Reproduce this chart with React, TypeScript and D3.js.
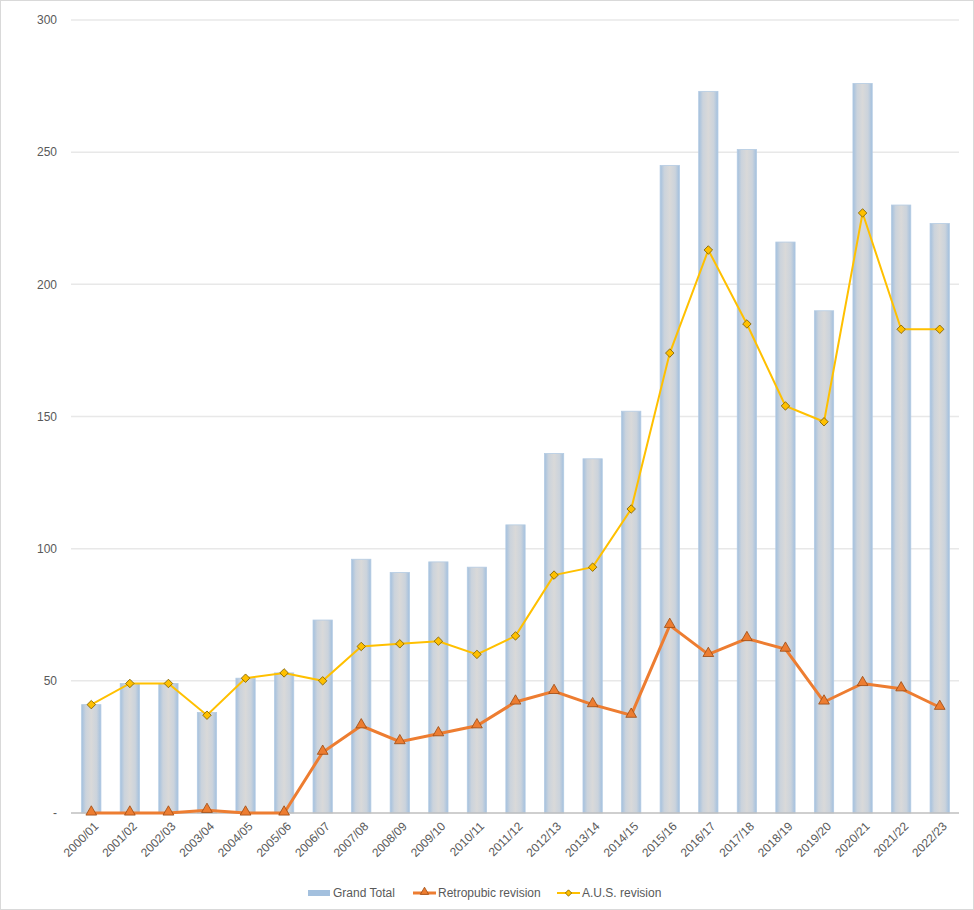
import React, { useRef, useEffect } from 'react';
import * as d3 from 'd3';

const years = [
  '2000/01', '2001/02', '2002/03', '2003/04', '2004/05', '2005/06', '2006/07', '2007/08',
  '2008/09', '2009/10', '2010/11', '2011/12', '2012/13', '2013/14', '2014/15', '2015/16',
  '2016/17', '2017/18', '2018/19', '2019/20', '2020/21', '2021/22', '2022/23'
];
const grandTotal = [41, 49, 49, 38, 51, 53, 73, 96, 91, 95, 93, 109, 136, 134, 152, 245, 273, 251, 216, 190, 276, 230, 223];
const retropubic = [0, 0, 0, 1, 0, 0, 23, 33, 27, 30, 33, 42, 46, 41, 37, 71, 60, 66, 62, 42, 49, 47, 40];
const ausRevision = [41, 49, 49, 37, 51, 53, 50, 63, 64, 65, 60, 67, 90, 93, 115, 174, 213, 185, 154, 148, 227, 183, 183];
const yTicks = [0, 50, 100, 150, 200, 250, 300];

const W = 974;
const H = 910;
const margin = { top: 20, right: 15, bottom: 97, left: 72 };
const font = 'Liberation Sans, Arial, sans-serif';

export default function App() {
  const svgRef = useRef<SVGSVGElement>(null);

  useEffect(() => {
    if (!svgRef.current) return;
    const svg = d3.select(svgRef.current);
    svg.selectAll('*').remove();

    const x = d3.scaleBand<string>()
      .domain(years)
      .range([margin.left, W - margin.right])
      .paddingInner(0.5)
      .paddingOuter(0.25);
    const y = d3.scaleLinear()
      .domain([0, 300])
      .range([H - margin.bottom, margin.top]);

    // outer border
    svg.append('rect')
      .attr('x', 0.5).attr('y', 0.5)
      .attr('width', W - 1).attr('height', H - 1)
      .attr('fill', '#fff')
      .attr('stroke', '#d9d9d9');

    // bar gradient
    const grad = svg.append('defs').append('linearGradient')
      .attr('id', 'barGrad')
      .attr('x1', '0%').attr('x2', '100%').attr('y1', '0%').attr('y2', '0%');
    [
      ['0%', '#a3c0de'],
      ['22%', '#cbd3dc'],
      ['50%', '#d9d9d9'],
      ['78%', '#cbd3dc'],
      ['100%', '#a3c0de']
    ].forEach(([o, c]) => grad.append('stop').attr('offset', o).attr('stop-color', c));

    // gridlines
    svg.append('g')
      .selectAll('line')
      .data(yTicks.filter(t => t > 0))
      .enter().append('line')
      .attr('x1', margin.left - 1)
      .attr('x2', W - margin.right)
      .attr('y1', d => y(d))
      .attr('y2', d => y(d))
      .attr('stroke', '#e8e8e8')
      .attr('stroke-width', 1.5);

    // y labels
    svg.append('g')
      .selectAll('text')
      .data(yTicks)
      .enter().append('text')
      .attr('x', 57)
      .attr('y', d => y(d))
      .attr('dy', '0.35em')
      .attr('text-anchor', 'end')
      .attr('font-family', font)
      .attr('font-size', 12)
      .attr('fill', '#595959')
      .text(d => (d === 0 ? '-' : String(d)));

    // bars
    svg.append('g')
      .selectAll('rect')
      .data(grandTotal)
      .enter().append('rect')
      .attr('x', (d, i) => x(years[i])!)
      .attr('y', d => y(d))
      .attr('width', x.bandwidth())
      .attr('height', d => y(0) - y(d))
      .attr('fill', 'url(#barGrad)')
      .attr('stroke', '#b4cbe3')
      .attr('stroke-width', 0.8);

    // x axis line
    svg.append('line')
      .attr('x1', margin.left - 1)
      .attr('x2', W - margin.right)
      .attr('y1', y(0))
      .attr('y2', y(0))
      .attr('stroke', '#bfbfbf')
      .attr('stroke-width', 1.5);

    // x labels
    svg.append('g')
      .selectAll('text')
      .data(years)
      .enter().append('text')
      .attr('transform', d => `translate(${x(d)! + x.bandwidth() / 2 + 5},${y(0) + 11}) rotate(-45)`)
      .attr('text-anchor', 'end')
      .attr('dy', '0.35em')
      .attr('font-family', font)
      .attr('font-size', 12)
      .attr('fill', '#595959')
      .text(d => d);

    const cx = (i: number) => x(years[i])! + x.bandwidth() / 2;
    const line = d3.line<number>().x((d, i) => cx(i)).y(d => y(d));

    // A.U.S. line
    svg.append('path')
      .datum(ausRevision)
      .attr('d', line)
      .attr('fill', 'none')
      .attr('stroke', '#ffc000')
      .attr('stroke-width', 2);

    // Retropubic line
    svg.append('path')
      .datum(retropubic)
      .attr('d', line)
      .attr('fill', 'none')
      .attr('stroke', '#ed7d31')
      .attr('stroke-width', 3);

    const tri = d3.symbol().type(d3.symbolTriangle).size(50);
    const dia = d3.symbol().type(d3.symbolSquare).size(36);

    svg.append('g')
      .selectAll('path')
      .data(retropubic)
      .enter().append('path')
      .attr('d', tri)
      .attr('transform', (d, i) => `translate(${cx(i)},${y(d) - 1})`)
      .attr('fill', '#ed7d31')
      .attr('stroke', '#9c4a12')
      .attr('stroke-width', 0.8);

    svg.append('g')
      .selectAll('path')
      .data(ausRevision)
      .enter().append('path')
      .attr('d', dia)
      .attr('transform', (d, i) => `translate(${cx(i)},${y(d)}) rotate(45)`)
      .attr('fill', '#ffc000')
      .attr('stroke', '#7f6000')
      .attr('stroke-width', 0.8);

    // legend
    const ly = 893;
    const lg = svg.append('g').attr('font-family', font).attr('font-size', 12).attr('fill', '#595959');
    lg.append('rect').attr('x', 308).attr('y', ly - 3).attr('width', 22).attr('height', 6).attr('fill', '#a3c0de');
    lg.append('text').attr('x', 333).attr('y', ly).attr('dy', '0.35em').text('Grand Total');

    lg.append('line').attr('x1', 413).attr('x2', 436).attr('y1', ly).attr('y2', ly)
      .attr('stroke', '#ed7d31').attr('stroke-width', 3);
    lg.append('path').attr('d', d3.symbol().type(d3.symbolTriangle).size(30)())
      .attr('transform', `translate(424.5,${ly - 1})`)
      .attr('fill', '#ed7d31').attr('stroke', '#9c4a12').attr('stroke-width', 0.8);
    lg.append('text').attr('x', 438).attr('y', ly).attr('dy', '0.35em').text('Retropubic revision');

    lg.append('line').attr('x1', 557).attr('x2', 580).attr('y1', ly).attr('y2', ly)
      .attr('stroke', '#ffc000').attr('stroke-width', 2);
    lg.append('path').attr('d', d3.symbol().type(d3.symbolSquare).size(20)())
      .attr('transform', `translate(568.5,${ly}) rotate(45)`)
      .attr('fill', '#ffc000').attr('stroke', '#7f6000').attr('stroke-width', 0.8);
    lg.append('text').attr('x', 582).attr('y', ly).attr('dy', '0.35em').text('A.U.S. revision');
  }, []);

  return (
    <svg
      ref={svgRef}
      width={W}
      height={H}
      style={{ position: 'absolute', left: 0, top: 0 }}
    />
  );
}
